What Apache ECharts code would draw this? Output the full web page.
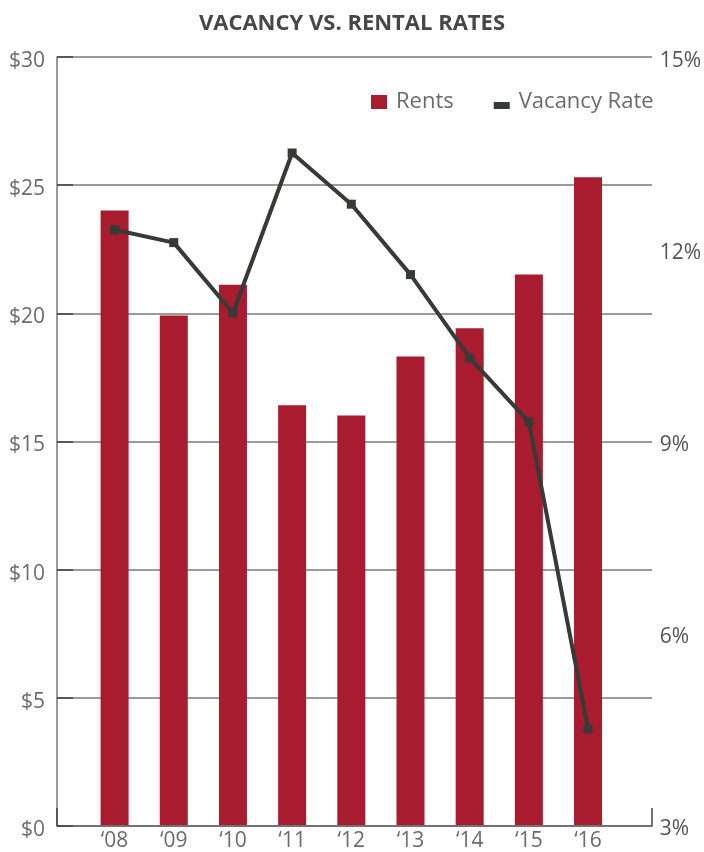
<!DOCTYPE html>
<html>
<head>
<meta charset="utf-8">
<title>Vacancy vs. Rental Rates</title>
<script src="https://cdn.jsdelivr.net/npm/echarts@6/dist/echarts.min.js"></script>
<style>
  html, body { margin: 0; padding: 0; background: #fff; }
  #main { width: 704px; height: 852px; }
</style>
</head>
<body>
<div id="main"></div>
<script>
// data
var years = ['\u201808', '\u201809', '\u201810', '\u201811', '\u201812', '\u201813', '\u201814', '\u201815', '\u201816'];
var rents = [24.0, 19.9, 21.1, 16.4, 16.0, 18.3, 19.4, 21.5, 25.3];
var vacancy = [12.3, 12.1, 11.0, 13.5, 12.7, 11.6, 10.3, 9.3, 4.5];

var FONT = '"Open Sans", "Noto Sans", sans-serif';
var labelColor = '#6b6b6b';

var myChart = echarts.init(document.getElementById('main'));

myChart.setOption({
  animation: false,
  title: {
    text: 'VACANCY VS. RENTAL RATES',
    left: 'center',
    top: 8,
    textStyle: {
      fontFamily: FONT,
      fontWeight: 'bold',
      fontSize: 22,
      color: '#474747'
    }
  },
  legend: {
    left: 366,
    top: 86,
    itemWidth: 16,
    itemHeight: 14,
    itemGap: 40,
    textStyle: { fontFamily: FONT, fontSize: 22, color: labelColor, padding: [0, 0, 0, 4] },
    data: [
      { name: 'Rents', icon: 'rect' },
      { name: 'Vacancy Rate', icon: 'path://M0,0 M0,7 L16,7 L16,14 L0,14 Z' }
    ]
  },
  grid: [
    // frame with axis lines + gridlines
    { left: 57, right: 52, top: 57, bottom: 26 },
    // inner area where the categories sit
    { left: 85, right: 79, top: 57, bottom: 26 }
  ],
  xAxis: [
    {
      gridIndex: 0,
      type: 'value',
      min: 0,
      max: 1,
      interval: 1,
      axisLine: { show: true, lineStyle: { color: '#666', width: 1.5 } },
      axisTick: { show: true, inside: true, length: 18, lineStyle: { color: '#444', width: 1.5 } },
      axisLabel: { show: false },
      splitLine: { show: false }
    },
    {
      gridIndex: 1,
      type: 'category',
      data: years,
      axisLine: { show: false },
      axisTick: { show: false },
      axisLabel: { margin: 6, fontFamily: FONT, fontSize: 21, color: labelColor }
    }
  ],
  yAxis: [
    {
      gridIndex: 0,
      type: 'value',
      min: 0,
      max: 30,
      interval: 5,
      axisLine: { show: true, lineStyle: { color: '#777', width: 1.5 } },
      axisTick: { show: true, inside: true, length: 16, lineStyle: { color: '#444', width: 1.5 } },
      axisLabel: {
        margin: 12,
        color: labelColor,
        formatter: function (v) { return '{a|$' + v + '}'; },
        rich: {
          a: { fontFamily: FONT, fontSize: 21, color: labelColor, padding: [8, 0, 0, 0] }
        }
      },
      splitLine: { show: true, lineStyle: { color: '#7a7a7a', width: 1.5 } }
    },
    {
      gridIndex: 1,
      type: 'value',
      min: 0,
      max: 30,
      interval: 5,
      show: false
    },
    {
      gridIndex: 1,
      type: 'value',
      position: 'right',
      offset: 27,
      min: 3,
      max: 15,
      interval: 3,
      axisLine: { show: false },
      axisTick: { show: false },
      splitLine: { show: false },
      axisLabel: {
        margin: 15,
        color: '#555',
        formatter: function (v) { return '{a|' + v + '%}'; },
        rich: {
          a: { fontFamily: FONT, fontSize: 21, color: '#555', padding: [8, 0, 0, 0] }
        }
      }
    }
  ],
  series: [
    {
      name: 'Rents',
      type: 'bar',
      xAxisIndex: 1,
      yAxisIndex: 1,
      barWidth: 28,
      itemStyle: { color: '#a91b2e' },
      data: rents
    },
    {
      name: 'Vacancy Rate',
      type: 'line',
      xAxisIndex: 1,
      yAxisIndex: 2,
      symbol: 'rect',
      symbolSize: 9,
      lineStyle: { color: '#363b37', width: 4 },
      itemStyle: { color: '#363b37' },
      data: vacancy
    }
  ]
});
</script>
</body>
</html>
